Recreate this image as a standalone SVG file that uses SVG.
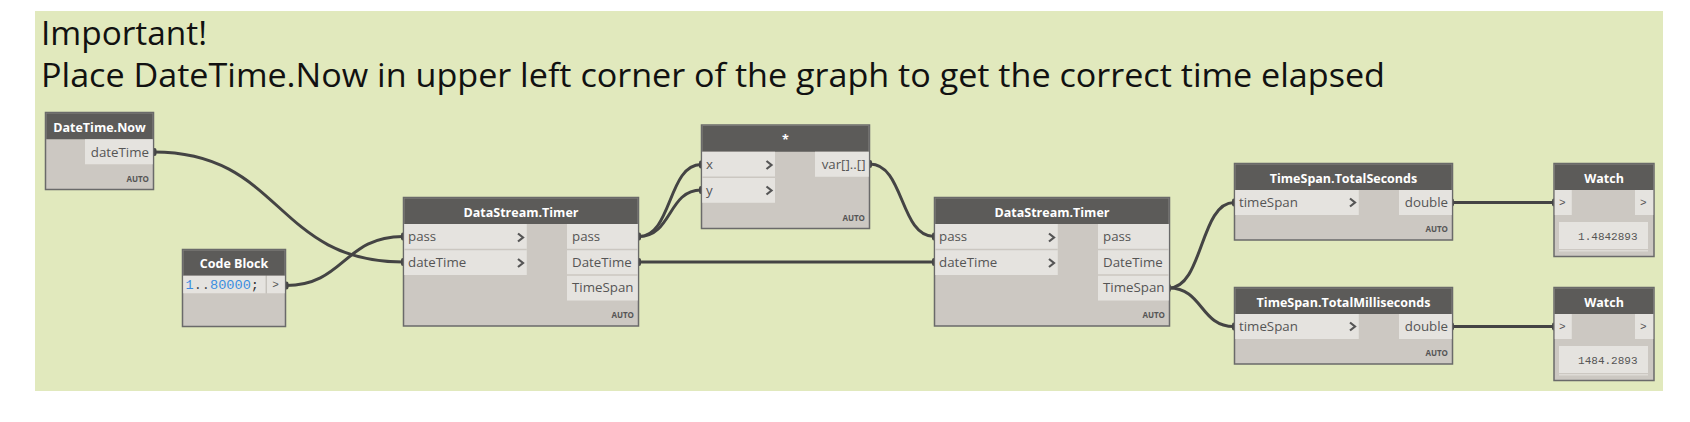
<svg xmlns="http://www.w3.org/2000/svg" width="1690" height="422" viewBox="0 0 1690 422">
<style>
.bg{fill:#e1e9bd}
.title{font-family:"Open Sans","Liberation Sans",sans-serif;font-size:33px;fill:#111}
.body{fill:#ccc8c2;stroke:#6a6a6a;stroke-width:1.5}
.head{fill:#5c5b59}
.htxt{font-family:"Open Sans","Liberation Sans",sans-serif;font-size:12.5px;font-weight:bold;fill:#fff;text-anchor:middle}
.port{fill:#e5e3df}
.sep{stroke:#cbc7c1;stroke-width:1.5}
.ptxt{font-family:"Open Sans","Liberation Sans",sans-serif;font-size:13.3px;fill:#555}
.out{text-anchor:end}
.chev{fill:none;stroke:#555;stroke-width:2.2}
.auto{font-family:"Open Sans","Liberation Sans",sans-serif;font-size:8px;font-weight:bold;fill:#555;text-anchor:end}
.mono{font-family:"Liberation Mono",monospace}
.wire{fill:none;stroke:#444;stroke-width:3}
.nub{fill:#444}
</style>
<rect x="35" y="11" width="1628" height="380" class="bg"/>
<text class="title" x="41" y="45" textLength="166" lengthAdjust="spacingAndGlyphs">Important!</text>
<text class="title" x="41" y="87" textLength="1344" lengthAdjust="spacingAndGlyphs">Place DateTime.Now in upper left corner of the graph to get the correct time elapsed</text>

<g id="connectors">
<path class="wire" d="M154,152 C282,152 275,262 403,262"/>
<path class="wire" d="M286,285.5 C344,285.5 344,236.5 403,236.5"/>
<path class="wire" d="M639,236.5 C672,236.5 668,164.5 701,164.5"/>
<path class="wire" d="M639,236.5 C672,236.5 668,190 701,190"/>
<path class="wire" d="M639,262 L934,262"/>
<path class="wire" d="M870,164 C904,164 900,236.5 934,236.5"/>
<path class="wire" d="M1169,288 C1203,288 1200,202.5 1234,202.5"/>
<path class="wire" d="M1169,288 C1203,288 1200,326.5 1234,326.5"/>
<path class="wire" d="M1452,202.5 L1554,202.5"/>
<path class="wire" d="M1452,326.5 L1554,326.5"/>
<rect class="nub" x="152.5" y="148" width="4" height="8" rx="2"/>
<rect class="nub" x="401" y="258" width="4" height="8" rx="2"/>
<rect class="nub" x="284.5" y="281.5" width="4" height="8" rx="2"/>
<rect class="nub" x="401" y="232.5" width="4" height="8" rx="2"/>
<rect class="nub" x="637" y="232.5" width="4" height="8" rx="2"/>
<rect class="nub" x="699" y="160.5" width="4" height="8" rx="2"/>
<rect class="nub" x="699" y="186" width="4" height="8" rx="2"/>
<rect class="nub" x="637" y="258" width="4" height="8" rx="2"/>
<rect class="nub" x="932" y="258" width="4" height="8" rx="2"/>
<rect class="nub" x="868" y="160" width="4" height="8" rx="2"/>
<rect class="nub" x="932" y="232.5" width="4" height="8" rx="2"/>
<rect class="nub" x="1167" y="284" width="4" height="8" rx="2"/>
<rect class="nub" x="1232" y="198.5" width="4" height="8" rx="2"/>
<rect class="nub" x="1232" y="322.5" width="4" height="8" rx="2"/>
<rect class="nub" x="1450" y="198.5" width="4" height="8" rx="2"/>
<rect class="nub" x="1450" y="322.5" width="4" height="8" rx="2"/>
<rect class="nub" x="1552" y="198.5" width="4" height="8" rx="2"/>
<rect class="nub" x="1552" y="322.5" width="4" height="8" rx="2"/>
</g>

<g id="datetime-now">
<rect class="body" x="45.5" y="112.5" width="108" height="77"/>
<rect class="head" x="46.25" y="113.25" width="106.5" height="26"/>
<text class="htxt" x="99.5" y="131.5">DateTime.Now</text>
<rect class="port" x="85" y="139.25" width="67.75" height="25"/>
<text class="ptxt out" x="149" y="156.5">dateTime</text>
<text class="auto" x="149" y="182">AUTO</text>
</g>

<g id="code-block">
<rect class="body" x="182.5" y="249.5" width="103" height="77"/>
<rect class="head" x="183.25" y="250.25" width="101.5" height="25.5"/>
<text class="htxt" x="234" y="268">Code Block</text>
<rect class="port" x="183.25" y="275.75" width="82.5" height="17.5"/>
<rect class="port" x="267" y="275.75" width="17.75" height="17.5"/>
<line x1="266.3" y1="275.75" x2="266.3" y2="293.25" stroke="#c5c1bb" stroke-width="1.2"/>
<text class="mono" x="185.5" y="289" font-size="13.6" fill="#3b8ee0">1<tspan fill="#4a4a4a">..</tspan>80000<tspan fill="#333">;</tspan></text>
<text class="mono" x="275.5" y="288" font-size="11" fill="#555" text-anchor="middle">&gt;</text>
</g>

<g id="timer-1">
<rect class="body" x="403.5" y="197.5" width="235" height="128.5"/>
<rect class="head" x="404.25" y="198.25" width="233.5" height="25.75"/>
<text class="htxt" x="521" y="216.5">DataStream.Timer</text>
<rect class="port" x="404.25" y="224" width="122.5" height="51"/>
<line class="sep" x1="404.25" y1="249.5" x2="526.75" y2="249.5"/>
<rect class="port" x="567" y="224" width="70.75" height="76.5"/>
<line class="sep" x1="567" y1="249.5" x2="637.75" y2="249.5"/>
<line class="sep" x1="567" y1="275" x2="637.75" y2="275"/>
<text class="ptxt" x="408" y="241">pass</text>
<text class="ptxt" x="408" y="266.5">dateTime</text>
<polyline class="chev" points="518,233.5 523,237.5 518,241.5"/>
<polyline class="chev" points="518,259 523,263 518,267"/>
<text class="ptxt" x="572" y="241">pass</text>
<text class="ptxt" x="572" y="266.5">DateTime</text>
<text class="ptxt" x="572" y="292">TimeSpan</text>
<text class="auto" x="634" y="318">AUTO</text>
</g>

<g id="multiply">
<rect class="body" x="701.5" y="125" width="168" height="103.5"/>
<rect class="head" x="702.25" y="125.75" width="166.5" height="26"/>
<text class="htxt" x="785.5" y="144">*</text>
<rect class="port" x="702.25" y="151.75" width="72.75" height="51"/>
<line class="sep" x1="702.25" y1="177.3" x2="775" y2="177.3"/>
<rect class="port" x="815" y="151.75" width="53.75" height="25"/>
<text class="ptxt" x="706" y="169">x</text>
<text class="ptxt" x="706" y="194.5">y</text>
<polyline class="chev" points="766.5,161 771.5,165 766.5,169"/>
<polyline class="chev" points="766.5,186.5 771.5,190.5 766.5,194.5"/>
<text class="ptxt out" x="865.5" y="169">var[]..[]</text>
<text class="auto" x="865" y="220.5">AUTO</text>
</g>

<g id="timer-2">
<rect class="body" x="934.5" y="197.5" width="235" height="128.5"/>
<rect class="head" x="935.25" y="198.25" width="233.5" height="25.75"/>
<text class="htxt" x="1052" y="216.5">DataStream.Timer</text>
<rect class="port" x="935.25" y="224" width="122.5" height="51"/>
<line class="sep" x1="935.25" y1="249.5" x2="1057.75" y2="249.5"/>
<rect class="port" x="1098" y="224" width="70.75" height="76.5"/>
<line class="sep" x1="1098" y1="249.5" x2="1168.75" y2="249.5"/>
<line class="sep" x1="1098" y1="275" x2="1168.75" y2="275"/>
<text class="ptxt" x="939" y="241">pass</text>
<text class="ptxt" x="939" y="266.5">dateTime</text>
<polyline class="chev" points="1049,233.5 1054,237.5 1049,241.5"/>
<polyline class="chev" points="1049,259 1054,263 1049,267"/>
<text class="ptxt" x="1103" y="241">pass</text>
<text class="ptxt" x="1103" y="266.5">DateTime</text>
<text class="ptxt" x="1103" y="292">TimeSpan</text>
<text class="auto" x="1165" y="318">AUTO</text>
</g>

<g id="total-seconds">
<rect class="body" x="1234.5" y="163.5" width="218" height="76.5"/>
<rect class="head" x="1235.25" y="164.25" width="216.5" height="25.75"/>
<text class="htxt" x="1343.5" y="182.5">TimeSpan.TotalSeconds</text>
<rect class="port" x="1235.25" y="190" width="123.5" height="25"/>
<rect class="port" x="1399" y="190" width="52.75" height="25"/>
<text class="ptxt" x="1239" y="207">timeSpan</text>
<polyline class="chev" points="1350,198.5 1355,202.5 1350,206.5"/>
<text class="ptxt out" x="1448" y="207">double</text>
<text class="auto" x="1448" y="232">AUTO</text>
</g>

<g id="total-milliseconds">
<rect class="body" x="1234.5" y="287.5" width="218" height="76.5"/>
<rect class="head" x="1235.25" y="288.25" width="216.5" height="25.75"/>
<text class="htxt" x="1343.5" y="306.5">TimeSpan.TotalMilliseconds</text>
<rect class="port" x="1235.25" y="314" width="123.5" height="25"/>
<rect class="port" x="1399" y="314" width="52.75" height="25"/>
<text class="ptxt" x="1239" y="331">timeSpan</text>
<polyline class="chev" points="1350,322.5 1355,326.5 1350,330.5"/>
<text class="ptxt out" x="1448" y="331">double</text>
<text class="auto" x="1448" y="356">AUTO</text>
</g>

<g id="watch-1">
<rect class="body" x="1554" y="163.5" width="100" height="93"/>
<rect class="head" x="1554.75" y="164.25" width="98.5" height="25.75"/>
<text class="htxt" x="1604" y="182.5">Watch</text>
<rect class="port" x="1554.75" y="190" width="17" height="25"/>
<rect class="port" x="1635" y="190" width="18.25" height="25"/>
<text class="mono" x="1559" y="206" font-size="11" fill="#555">&gt;</text>
<text class="mono" x="1640" y="206" font-size="11" fill="#555">&gt;</text>
<rect x="1559" y="222" width="89" height="27" fill="#e5e3df"/>
<line x1="1559" y1="250.8" x2="1648" y2="250.8" stroke="#dedbd6" stroke-width="1.5"/>
<text class="mono" x="1637.5" y="239.5" font-size="11" fill="#555" text-anchor="end">1.4842893</text>
</g>

<g id="watch-2">
<rect class="body" x="1554" y="287.5" width="100" height="93"/>
<rect class="head" x="1554.75" y="288.25" width="98.5" height="25.75"/>
<text class="htxt" x="1604" y="306.5">Watch</text>
<rect class="port" x="1554.75" y="314" width="17" height="25"/>
<rect class="port" x="1635" y="314" width="18.25" height="25"/>
<text class="mono" x="1559" y="330" font-size="11" fill="#555">&gt;</text>
<text class="mono" x="1640" y="330" font-size="11" fill="#555">&gt;</text>
<rect x="1559" y="346" width="89" height="27" fill="#e5e3df"/>
<line x1="1559" y1="374.8" x2="1648" y2="374.8" stroke="#dedbd6" stroke-width="1.5"/>
<text class="mono" x="1637.5" y="363.5" font-size="11" fill="#555" text-anchor="end">1484.2893</text>
</g>
</svg>
